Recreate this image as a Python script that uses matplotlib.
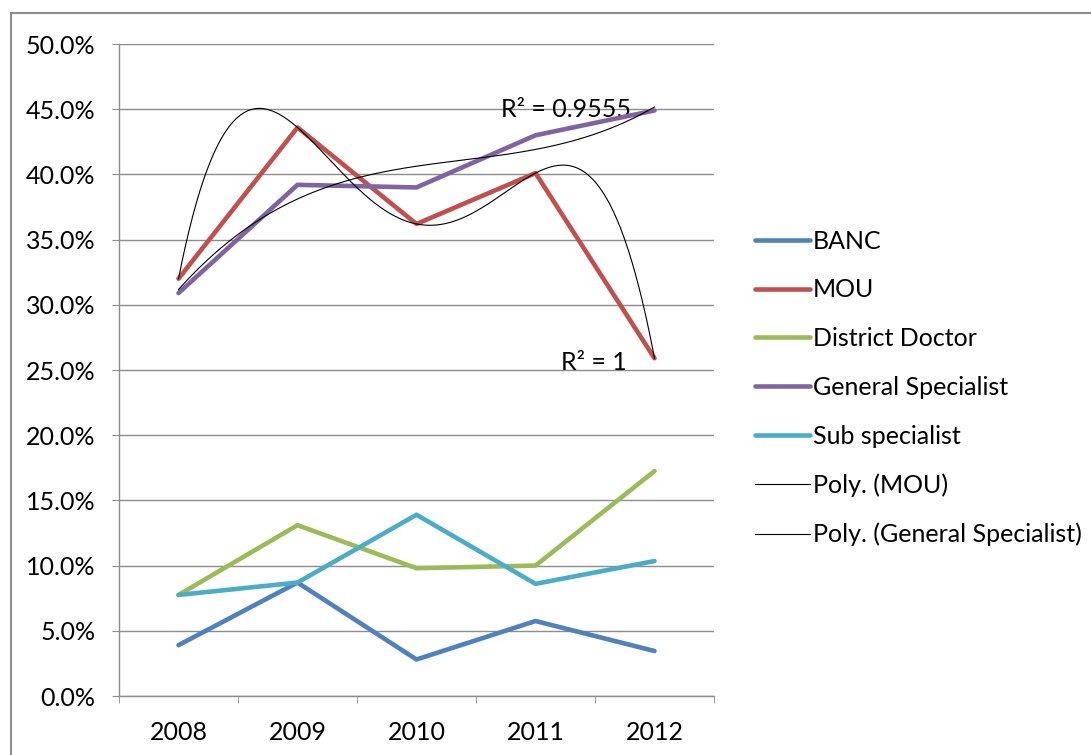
import numpy as np
import matplotlib.pyplot as plt
from matplotlib.lines import Line2D
from matplotlib.patches import Rectangle
from matplotlib.ticker import FuncFormatter, MultipleLocator

plt.rcParams['font.family'] = ['Lato', 'DejaVu Sans']

years = ['2008', '2009', '2010', '2011', '2012']
banc = [3.9, 8.7, 2.8, 5.75, 3.45]
mou = [32.0, 43.6, 36.2, 40.1, 25.9]
district_doctor = [7.75, 13.1, 9.8, 10.0, 17.25]
general_specialist = [30.9, 39.2, 39.0, 43.0, 44.9]
sub_specialist = [7.75, 8.7, 13.9, 8.6, 10.35]

series = [
    ('BANC', banc, '#4F81BD'),
    ('MOU', mou, '#C0504D'),
    ('District Doctor', district_doctor, '#9BBB59'),
    ('General Specialist', general_specialist, '#8064A2'),
    ('Sub specialist', sub_specialist, '#4BACC6'),
]

fs = 18

fig = plt.figure(figsize=(10.91, 7.55), dpi=100)
fig.patches.append(Rectangle((11 / 1091, -0.05), 1.1, 1 - 13 / 755 + 0.05,
                             transform=fig.transFigure, fill=False,
                             edgecolor='#8c8c8c', linewidth=1.5))
ax = fig.add_axes([119 / 1091, 1 - 696 / 755, (714 - 119) / 1091, (696 - 44) / 755])

x = np.arange(len(years))
grid_col = '#8c8c8c'

for label, vals, col in series:
    ax.plot(x, vals, color=col, linewidth=3.3, solid_capstyle='round', label=label, zorder=3)

# polynomial trendlines (Excel style)
xs = np.linspace(0, 4, 400)
mou_fit = np.polyfit(x, mou, 4)
gs_fit = np.polyfit(x, general_specialist, 3)
ax.plot(xs, np.polyval(mou_fit, xs), color='black', linewidth=0.8, zorder=4)
ax.plot(xs, np.polyval(gs_fit, xs), color='black', linewidth=0.8, zorder=4)

ax.text(3.8, 45.0, 'R² = 0.9555', fontsize=fs, ha='right', va='center', zorder=2)
ax.text(3.77, 25.6, 'R² = 1', fontsize=fs, ha='right', va='center', zorder=2)

ax.set_xlim(-0.5, 4.5)
ax.set_ylim(0, 50)
ax.yaxis.set_major_locator(MultipleLocator(5))
ax.yaxis.set_major_formatter(FuncFormatter(lambda v, p: f'{v:.1f}%'))
ax.grid(axis='y', color=grid_col, linewidth=1)
ax.set_axisbelow(True)

ax.set_xticks(x)
ax.set_xticklabels(years)
ax.set_xticks(np.arange(-0.5, 5, 1), minor=True)
ax.tick_params(axis='x', which='major', length=0, pad=18, labelsize=fs)
ax.tick_params(axis='x', which='minor', length=5, color=grid_col, direction='out')
ax.tick_params(axis='y', length=5, color=grid_col, pad=12, labelsize=fs)

for side in ['top', 'right']:
    ax.spines[side].set_visible(False)
for side in ['left', 'bottom']:
    ax.spines[side].set_color(grid_col)
    ax.spines[side].set_linewidth(1)

handles = [Line2D([], [], color=c, linewidth=3.3, solid_capstyle='round') for _, _, c in series]
handles += [Line2D([], [], color='black', linewidth=0.8)] * 2
labels = [s[0] for s in series] + ['Poly. (MOU)', 'Poly. (General Specialist)']
fig.legend(handles, labels, loc='center left', bbox_to_anchor=(755 / 1091, 1 - 388 / 755),
           frameon=False, fontsize=fs, handlelength=2.2, handletextpad=0.12,
           labelspacing=1.03, borderpad=0, borderaxespad=0)

fig.savefig('out.png', dpi=100)
